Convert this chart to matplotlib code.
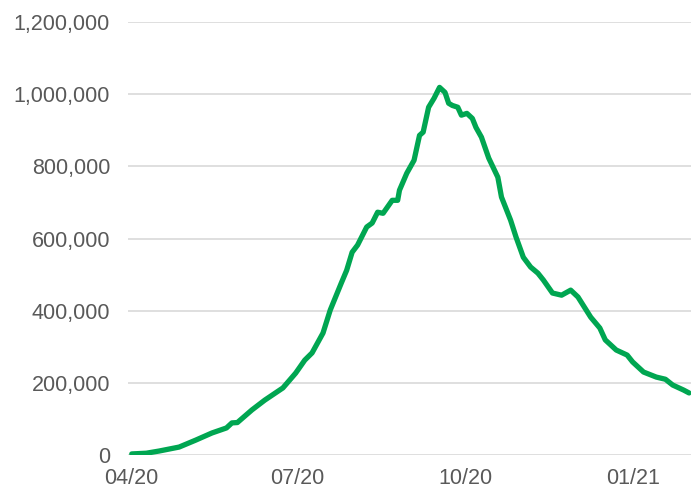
import matplotlib
matplotlib.use("Agg")
import matplotlib.pyplot as plt
import matplotlib.dates as mdates
from matplotlib.ticker import FuncFormatter
import pandas as pd

# values
dates = [
    "2020-04-01", "2020-04-09", "2020-04-16", "2020-04-27", "2020-05-06",
    "2020-05-15", "2020-05-23", "2020-05-26", "2020-05-29", "2020-06-06",
    "2020-06-13", "2020-06-23", "2020-06-30", "2020-07-05", "2020-07-09",
    "2020-07-15", "2020-07-19", "2020-07-25", "2020-07-28", "2020-07-31",
    "2020-08-03", "2020-08-08", "2020-08-11", "2020-08-14", "2020-08-17",
    "2020-08-22", "2020-08-25", "2020-08-26", "2020-08-30", "2020-09-03",
    "2020-09-06", "2020-09-08", "2020-09-11", "2020-09-14", "2020-09-17",
    "2020-09-20", "2020-09-22", "2020-09-24", "2020-09-27", "2020-09-29",
    "2020-10-02", "2020-10-05", "2020-10-07", "2020-10-10", "2020-10-14",
    "2020-10-19", "2020-10-21", "2020-10-26", "2020-10-29", "2020-11-02",
    "2020-11-06", "2020-11-10", "2020-11-13", "2020-11-18", "2020-11-23",
    "2020-11-28", "2020-12-02", "2020-12-09", "2020-12-14", "2020-12-17",
    "2020-12-23", "2020-12-29", "2021-01-01", "2021-01-07", "2021-01-14",
    "2021-01-19", "2021-01-23", "2021-01-29", "2021-02-01",
]
values = [
    3000, 5000, 11000, 22000, 41000,
    61000, 75000, 89000, 90000, 125000,
    152000, 186000, 227000, 263000, 283000,
    338000, 402000, 476000, 512000, 562000,
    582000, 632000, 643000, 673000, 670000,
    706000, 706000, 734000, 781000, 817000,
    886000, 895000, 964000, 989000, 1019000,
    1005000, 975000, 969000, 964000, 942000,
    947000, 933000, 908000, 881000, 823000,
    770000, 715000, 651000, 604000, 548000,
    521000, 504000, 485000, 449000, 443000,
    457000, 438000, 382000, 352000, 319000,
    291000, 277000, 258000, 230000, 216000,
    210000, 194000, 180000, 172000,
]
y_ticks = [0, 200000, 400000, 600000, 800000, 1000000, 1200000]
x_ticks = ["2020-04-01", "2020-07-01", "2020-10-01", "2021-01-01"]

TEXT = "#595959"
GRID = "#d9d9d9"
GREEN = "#00a651"

plt.rcParams["font.family"] = ["Liberation Sans", "DejaVu Sans"]

fig = plt.figure(figsize=(7.0, 4.91), dpi=100, facecolor="white")
ax = fig.add_axes([0.183, 0.0733, 0.804, 0.8817])

x = pd.to_datetime(dates)
ax.plot(x, values, color=GREEN, linewidth=3.8, solid_capstyle="round",
        solid_joinstyle="round", zorder=3)

ax.set_ylim(0, 1200000)
ax.set_yticks(y_ticks)
ax.yaxis.set_major_formatter(FuncFormatter(lambda v, p: f"{int(v):,}"))
ax.set_xlim(pd.Timestamp("2020-03-30"), pd.Timestamp("2021-02-02"))
ax.set_xticks(pd.to_datetime(x_ticks))
ax.xaxis.set_major_formatter(mdates.DateFormatter("%m/%y"))

ax.grid(axis="y", color=GRID, linewidth=1.2, zorder=0)
ax.set_axisbelow(True)
for s in ax.spines.values():
    s.set_visible(False)
ax.tick_params(axis="both", length=0, labelsize=15.5, labelcolor=TEXT)
ax.tick_params(axis="y", pad=13)
ax.tick_params(axis="x", pad=9.5)

fig.savefig("out.png", dpi=100, facecolor="white")
